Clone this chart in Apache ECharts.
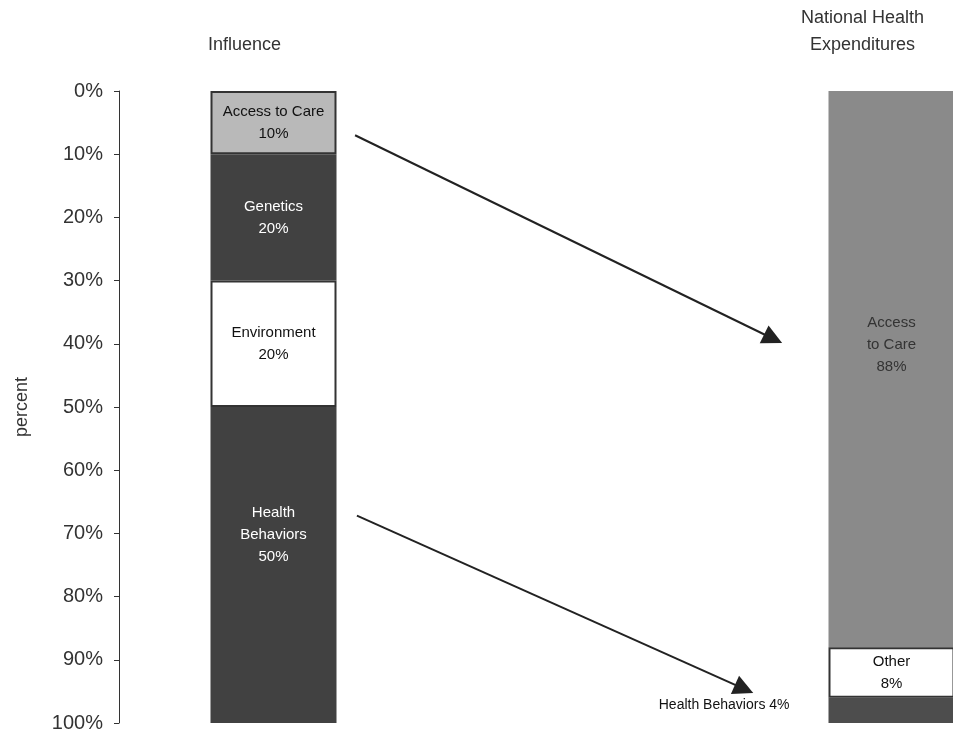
<!DOCTYPE html>
<html>
<head>
<meta charset="utf-8">
<script src="https://cdn.jsdelivr.net/npm/echarts@6/dist/echarts.min.js"></script>
<style>
  html, body { margin: 0; padding: 0; background: #fff; }
  #chart { width: 953px; height: 733px; }
</style>
</head>
<body>
<div id="chart"></div>
<script>
// columns: left = influence, middle = empty gap, right = spending
const categories = ['Influence', '', 'National Health\nExpenditures'];
const accessToCare = [10, '-', 88];
const genetics = [20, '-', '-'];
const environment = [20, '-', '-'];
const other = ['-', '-', 8];
const healthBehaviors = [50, '-', 4];
const yTicks = [0, 10, 20, 30, 40, 50, 60, 70, 80, 90, 100];

// arrows, in [column position, percent]
const arrowLinks = [
    [[0.764, 7.0], [2.117, 39.2]],
    [[0.770, 67.2], [2.023, 94.6]]
];

const FONT = "'Liberation Sans', Arial, sans-serif";
const DARK = '#414141';

var myChart = echarts.init(document.getElementById('chart'));

function seg(values, colors, labels, extra) {
    return values.map((v, i) => {
        if (v === '-') return '-';
        return {
            value: v,
            itemStyle: colors[i],
            label: Object.assign({formatter: labels[i]}, extra ? extra[i] : {})
        };
    });
}

var barBase = {
    type: 'bar',
    stack: 'total',
    barWidth: 126,
    xAxisIndex: 0,
    yAxisIndex: 0,
    label: {
        show: true,
        position: 'inside',
        fontFamily: FONT,
        fontSize: 15,
        lineHeight: 22
    }
};

var option = {
    backgroundColor: '#fff',
    animation: false,
    grid: {left: 119, top: 91, width: 927, bottom: 10, outerBoundsMode: 'none', containLabel: false},
    xAxis: [
        {
            type: 'category',
            data: categories,
            position: 'top',
            axisLine: {show: false},
            axisTick: {show: false},
            axisLabel: {
                margin: 32,
                fontFamily: FONT,
                fontSize: 18,
                lineHeight: 27,
                color: '#333',
                padding: [0, 58, 0, 0]
            }
        },
        {type: 'value', min: 0, max: 3, show: false}
    ],
    yAxis: {
        type: 'value',
        inverse: true,
        min: 0,
        max: 100,
        interval: 10,
        name: 'percent',
        nameLocation: 'middle',
        nameGap: 88,
        nameTextStyle: {fontFamily: FONT, fontSize: 18, color: '#333'},
        axisLine: {show: true, lineStyle: {color: '#333', width: 1}},
        axisTick: {show: true, length: 5, lineStyle: {color: '#333'}},
        splitLine: {show: false},
        axisLabel: {
            margin: 16,
            fontFamily: FONT,
            fontSize: 20,
            color: '#333',
            formatter: v => yTicks.indexOf(v) >= 0 ? v + '%' : ''
        }
    },
    series: [
        Object.assign({}, barBase, {
            name: 'Access to Care',
            data: seg(accessToCare,
                [{color: '#b9b9b9', borderColor: '#333', borderWidth: 2}, null, {color: '#8a8a8a'}],
                ['Access to Care\n' + accessToCare[0] + '%', '', 'Access\nto Care\n' + accessToCare[2] + '%'],
                [{color: '#111'}, {}, {color: '#333', offset: [0, -24]}])
        }),
        Object.assign({}, barBase, {
            name: 'Genetics',
            data: seg(genetics, [{color: DARK}], ['Genetics\n' + genetics[0] + '%'], [{color: '#fff'}])
        }),
        Object.assign({}, barBase, {
            name: 'Environment',
            data: seg(environment, [{color: '#fff', borderColor: '#333', borderWidth: 2}],
                ['Environment\n' + environment[0] + '%'], [{color: '#111'}])
        }),
        Object.assign({}, barBase, {
            name: 'Other',
            data: seg(other, [null, null, {color: '#fff', borderColor: '#333', borderWidth: 2}],
                ['', '', 'Other\n' + other[2] + '%'], [{}, {}, {color: '#111'}])
        }),
        Object.assign({}, barBase, {
            name: 'Health Behaviors',
            data: seg(healthBehaviors, [{color: DARK}, null, {color: '#4d4d4d'}],
                ['Health\nBehaviors\n' + healthBehaviors[0] + '%', '', 'Health Behaviors ' + healthBehaviors[2] + '%'],
                [{color: '#fff', offset: [0, -30]}, {},
                 {color: '#111', fontSize: 14, position: 'left', distance: 39, offset: [0, -5]}])
        }),
        {
            type: 'lines',
            coordinateSystem: 'cartesian2d',
            xAxisIndex: 1,
            yAxisIndex: 0,
            symbol: ['none', 'triangle'],
            symbolSize: [0, 20],
            lineStyle: {color: '#222', width: 2, opacity: 1},
            itemStyle: {color: '#333'},
            data: arrowLinks.map(c => ({coords: c})),
            z: 5
        }
    ]
};

myChart.setOption(option);
</script>
</body>
</html>
